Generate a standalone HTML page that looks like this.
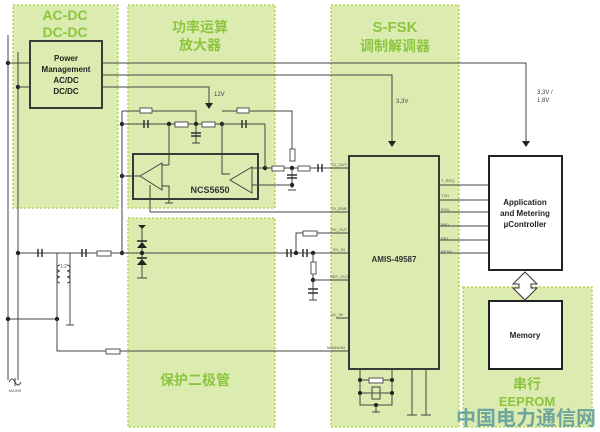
<!DOCTYPE html>
<html><head><meta charset="utf-8"><style>
html,body{margin:0;padding:0;background:#fff;}
svg{display:block;font-family:"Liberation Sans","Noto Sans CJK SC",sans-serif;}
.g{fill:#dcebb0;stroke:#b5d45a;stroke-width:1.5;stroke-dasharray:2 2;}
.w{stroke:#444;stroke-width:1;fill:none;}
.r{fill:#fff;stroke:#555;stroke-width:1;}
.t{fill:#8cc63f;font-weight:bold;}
.p{font-size:4px;fill:#555;}
</style></head><body>
<svg width="600" height="432" viewBox="0 0 600 432" xmlns="http://www.w3.org/2000/svg">
<rect class="g" x="13" y="5" width="105" height="203"/>
<rect class="g" x="128" y="5" width="147" height="203"/>
<rect class="g" x="128" y="218" width="147" height="209"/>
<rect class="g" x="331" y="5" width="128" height="422"/>
<rect class="g" x="463" y="287" width="129" height="140"/>

<text class="t" x="65" y="20" font-size="14" text-anchor="middle">AC-DC</text>
<text class="t" x="65" y="37" font-size="14" text-anchor="middle">DC-DC</text>
<text class="t" x="200" y="32" font-size="14" text-anchor="middle">功率运算</text>
<text class="t" x="200" y="50" font-size="14" text-anchor="middle">放大器</text>
<text class="t" x="395" y="32" font-size="15" text-anchor="middle">S-FSK</text>
<text class="t" x="395" y="51" font-size="14" text-anchor="middle">调制解调器</text>
<text class="t" x="195" y="385" font-size="14" text-anchor="middle">保护二极管</text>
<text class="t" x="527" y="389" font-size="14" text-anchor="middle">串行</text>
<text class="t" x="527" y="406" font-size="13" text-anchor="middle">EEPROM</text>

<line class="w" x1="8" y1="35" x2="8" y2="380"/>
<line class="w" x1="18" y1="52" x2="18" y2="380"/>
<circle cx="8" cy="63" r="2.2" fill="#222"/>
<circle cx="18" cy="87" r="2.2" fill="#222"/>
<line class="w" x1="8" y1="63" x2="30" y2="63"/>
<line class="w" x1="18" y1="87" x2="30" y2="87"/>
<path d="M9 382 q3 -6 6 0 q3 6 6 0" class="w"/>
<line class="w" x1="15" y1="378" x2="15" y2="386"/>
<text x="15" y="392" font-size="4" fill="#555" text-anchor="middle">MAINS</text>

<rect x="30" y="41" width="72" height="67" fill="#dcebb0" stroke="#3a3a3a" stroke-width="2"/>
<text x="66" y="61" font-size="8" font-weight="bold" text-anchor="middle" fill="#222">Power</text>
<text x="66" y="72" font-size="8" font-weight="bold" text-anchor="middle" fill="#222">Management</text>
<text x="66" y="83" font-size="8" font-weight="bold" text-anchor="middle" fill="#222">AC/DC</text>
<text x="66" y="94" font-size="8" font-weight="bold" text-anchor="middle" fill="#222">DC/DC</text>

<polyline class="w" points="102,63 526,63 526,142"/>
<polygon points="522,141 530,141 526,147" fill="#222"/>
<text x="537" y="94" font-size="6" fill="#444">3,3V /</text>
<text x="537" y="102" font-size="6" fill="#444">1,8V</text>
<polyline class="w" points="102,75 392,75 392,142"/>
<polygon points="388,141 396,141 392,147" fill="#222"/>
<text x="396" y="103" font-size="6" fill="#444">3,3V</text>
<polyline class="w" points="102,87 209,87 209,104"/>
<polygon points="205,103 213,103 209,109" fill="#222"/>
<text x="214" y="96" font-size="6" fill="#444">12V</text>

<line class="w" x1="122" y1="111" x2="122" y2="253"/>
<circle cx="122" cy="124" r="2.2" fill="#222"/>
<circle cx="122" cy="176" r="2.2" fill="#222"/>
<circle cx="122" cy="253" r="2.2" fill="#222"/>
<polyline class="w" points="122,111 196,111 196,124"/>
<rect class="r" x="140" y="108" width="12" height="5"/>
<line class="w" x1="122" y1="124" x2="222" y2="124"/>
<line x1="144" y1="120" x2="144" y2="128" stroke="#333" stroke-width="1.5"/>
<line x1="148" y1="120" x2="148" y2="128" stroke="#333" stroke-width="1.5"/>
<rect class="r" x="175" y="122" width="13" height="5"/>
<rect class="r" x="202" y="122" width="13" height="5"/>
<circle cx="169" cy="124" r="2.2" fill="#222"/>
<circle cx="196" cy="124" r="2.2" fill="#222"/>
<circle cx="222" cy="124" r="2.2" fill="#222"/>
<line class="w" x1="196" y1="124" x2="196" y2="143"/>
<line x1="191" y1="133" x2="201" y2="133" stroke="#333" stroke-width="1.5"/>
<line x1="191" y1="136" x2="201" y2="136" stroke="#333" stroke-width="1.5"/>
<line class="w" x1="192" y1="143" x2="200" y2="143"/>
<line x1="222" y1="124" x2="262" y2="124" class="w"/>
<line x1="242" y1="120" x2="242" y2="128" stroke="#333" stroke-width="1.5"/>
<line x1="246" y1="120" x2="246" y2="128" stroke="#333" stroke-width="1.5"/>
<polyline class="w" points="222,111 292,111 292,150"/>
<rect class="r" x="237" y="108" width="12" height="5"/>
<line class="w" x1="169" y1="124" x2="169" y2="165"/>
<polyline class="w" points="222,124 222,174 230,174"/>

<rect x="133" y="154" width="125" height="45" fill="none" stroke="#3a3a3a" stroke-width="2"/>
<text x="210" y="193" font-size="9" font-weight="bold" fill="#333" text-anchor="middle">NCS5650</text>
<polygon points="140,176 162,163 162,190" fill="none" stroke="#444"/>
<polygon points="230,180 252,167 252,193" fill="none" stroke="#444"/>
<line class="w" x1="122" y1="176" x2="140" y2="176"/>
<polyline class="w" points="162,165 169,165"/>
<polyline class="w" points="162,186 169,186 169,203"/>
<line class="w" x1="165" y1="203" x2="173" y2="203"/>
<polyline class="w" points="150,212 150,185"/>
<polyline class="w" points="252,168 349,168"/>
<circle cx="265" cy="168" r="2.2" fill="#222"/>
<line class="w" x1="265" y1="124" x2="265" y2="168"/>
<line class="w" x1="262" y1="124" x2="265" y2="124"/>
<rect class="r" x="272" y="166" width="12" height="5"/>
<rect class="r" x="298" y="166" width="12" height="5"/>
<rect class="r" x="290" y="149" width="5" height="12"/>
<circle cx="292" cy="168" r="2.2" fill="#222"/>
<line class="w" x1="292" y1="168" x2="292" y2="188"/>
<line x1="287" y1="175" x2="297" y2="175" stroke="#333" stroke-width="1.5"/>
<line x1="287" y1="178" x2="297" y2="178" stroke="#333" stroke-width="1.5"/>
<circle cx="292" cy="185" r="2.2" fill="#222"/>
<polyline class="w" points="252,185 292,185"/>
<line class="w" x1="288" y1="190" x2="296" y2="190"/>
<line x1="318" y1="164" x2="318" y2="172" stroke="#333" stroke-width="1.5"/>
<line x1="322" y1="164" x2="322" y2="172" stroke="#333" stroke-width="1.5"/>
<line class="w" x1="150" y1="212" x2="349" y2="212"/>

<line class="w" x1="18" y1="253" x2="349" y2="253"/>
<circle cx="18" cy="253" r="2.2" fill="#222"/>
<line x1="38" y1="249" x2="38" y2="257" stroke="#333" stroke-width="1.5"/>
<line x1="42" y1="249" x2="42" y2="257" stroke="#333" stroke-width="1.5"/>
<line x1="82" y1="249" x2="82" y2="257" stroke="#333" stroke-width="1.5"/>
<line x1="86" y1="249" x2="86" y2="257" stroke="#333" stroke-width="1.5"/>
<rect class="r" x="97" y="251" width="14" height="5"/>
<rect x="50" y="255" width="25" height="5" fill="#fff"/>
<polyline class="w" points="44,253 57,253 57,319"/>
<polyline class="w" points="80,253 70,253 70,325"/>
<path class="w" d="M60 265 a3 3 0 0 0 0 6 a3 3 0 0 0 0 6 a3 3 0 0 0 0 6"/>
<path class="w" d="M67 265 a3 3 0 0 1 0 6 a3 3 0 0 1 0 6 a3 3 0 0 1 0 6"/>
<text x="60" y="268" font-size="5" fill="#555">1:2</text>
<line class="w" x1="66" y1="325" x2="74" y2="325"/>
<line class="w" x1="8" y1="319" x2="57" y2="319"/>
<circle cx="8" cy="319" r="2.2" fill="#222"/>
<circle cx="57" cy="319" r="2.2" fill="#222"/>
<polyline class="w" points="57,319 57,351 349,351"/>
<rect class="r" x="106" y="349" width="14" height="5"/>
<line class="w" x1="142" y1="225" x2="142" y2="278"/>
<polygon points="138,225 146,225 142,229" fill="#222"/>
<polygon points="137,248 147,248 142,242" fill="#222"/>
<line x1="137" y1="241" x2="147" y2="241" stroke="#222" stroke-width="1.5"/>
<circle cx="142" cy="253" r="2.2" fill="#222"/>
<polygon points="137,265 147,265 142,259" fill="#222"/>
<line x1="137" y1="258" x2="147" y2="258" stroke="#222" stroke-width="1.5"/>
<line class="w" x1="137" y1="278" x2="147" y2="278"/>
<polyline class="w" points="296,253 296,233 349,233"/>
<rect class="r" x="303" y="231" width="14" height="5"/>
<circle cx="296" cy="253" r="2.2" fill="#222"/>
<circle cx="313" cy="253" r="2.2" fill="#222"/>
<line x1="287" y1="249" x2="287" y2="257" stroke="#333" stroke-width="1.5"/>
<line x1="291" y1="249" x2="291" y2="257" stroke="#333" stroke-width="1.5"/>
<line x1="303" y1="249" x2="303" y2="257" stroke="#333" stroke-width="1.5"/>
<line x1="307" y1="249" x2="307" y2="257" stroke="#333" stroke-width="1.5"/>
<line class="w" x1="313" y1="253" x2="313" y2="300"/>
<rect class="r" x="311" y="262" width="5" height="12"/>
<circle cx="313" cy="280" r="2.2" fill="#222"/>
<line class="w" x1="313" y1="280" x2="349" y2="280"/>
<line x1="308" y1="289" x2="318" y2="289" stroke="#333" stroke-width="1.5"/>
<line x1="308" y1="293" x2="318" y2="293" stroke="#333" stroke-width="1.5"/>
<line class="w" x1="309" y1="300" x2="317" y2="300"/>
<line class="w" x1="336" y1="318" x2="349" y2="318"/>

<rect x="349" y="156" width="90" height="213" fill="#dcebb0" stroke="#3a3a3a" stroke-width="2"/>
<text x="394" y="262" font-size="8" font-weight="bold" fill="#333" text-anchor="middle">AMIS-49587</text>
<text class="p" x="331" y="166">TX_OUT</text>
<text class="p" x="331" y="210">TX_ENB</text>
<text class="p" x="331" y="231">RX_OUT</text>
<text class="p" x="333" y="251">RX_IN</text>
<text class="p" x="330" y="278">REF_OUT</text>
<text class="p" x="331" y="316">AC_IN</text>
<text class="p" x="327" y="349">M50Hz/IN</text>
<text class="p" x="441" y="182">T_REQ</text>
<text class="p" x="441" y="197">TXD</text>
<text class="p" x="441" y="211">RXD</text>
<text class="p" x="441" y="226">BR0</text>
<text class="p" x="441" y="240">BR1</text>
<text class="p" x="441" y="253">RESB</text>
<g class="w">
<line x1="439" y1="185" x2="489" y2="185"/>
<line x1="439" y1="200" x2="489" y2="200"/>
<line x1="439" y1="212" x2="489" y2="212"/>
<line x1="439" y1="226" x2="489" y2="226"/>
<line x1="439" y1="240" x2="489" y2="240"/>
<line x1="439" y1="253" x2="489" y2="253"/>
</g>
<g class="w">
<polyline points="360,369 360,405 392,405 392,369"/>
<line x1="360" y1="380" x2="392" y2="380"/>
<line x1="376" y1="405" x2="376" y2="412"/>
<line x1="372" y1="412" x2="380" y2="412"/>
<line x1="412" y1="369" x2="412" y2="415"/><line x1="407" y1="415" x2="417" y2="415"/>
<line x1="426" y1="369" x2="426" y2="415"/><line x1="421" y1="415" x2="431" y2="415"/>
</g>
<rect class="r" x="369" y="378" width="14" height="5"/>
<rect x="372" y="387" width="8" height="12" fill="#dcebb0" stroke="#444"/>
<line class="w" x1="360" y1="393" x2="392" y2="393"/>
<circle cx="360" cy="380" r="2" fill="#222"/><circle cx="392" cy="380" r="2" fill="#222"/>
<circle cx="360" cy="393" r="2" fill="#222"/><circle cx="392" cy="393" r="2" fill="#222"/>
<circle cx="376" cy="405" r="2" fill="#222"/>

<rect x="489" y="156" width="73" height="114" fill="#fff" stroke="#222" stroke-width="2"/>
<text x="525" y="205" font-size="8" font-weight="bold" fill="#222" text-anchor="middle">Application</text>
<text x="525" y="216" font-size="8" font-weight="bold" fill="#222" text-anchor="middle">and Metering</text>
<text x="525" y="227" font-size="8" font-weight="bold" fill="#222" text-anchor="middle">µController</text>
<polygon points="525,272 537,284 531,284 531,288 537,288 525,300 513,288 519,288 519,284 513,284" fill="#fff" stroke="#333"/>
<rect x="489" y="301" width="73" height="68" fill="#fff" stroke="#222" stroke-width="2"/>
<text x="525" y="338" font-size="8" font-weight="bold" fill="#222" text-anchor="middle">Memory</text>

<text x="526" y="425" font-size="20" font-weight="bold" fill="#5a9a9a" fill-opacity="0.85" text-anchor="middle">中国电力通信网</text>
</svg>
</body></html>
